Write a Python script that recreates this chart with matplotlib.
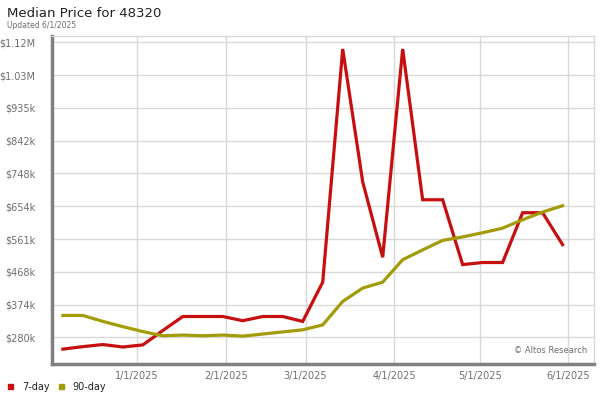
import numpy as np
import pandas as pd
import matplotlib
matplotlib.use('Agg')
import matplotlib.pyplot as plt
import matplotlib.dates as mdates

# Weekly data points (values in $k)
dates = pd.date_range('2024-12-06', periods=26, freq='7D')
day7 = [247, 254, 260, 253, 259, 300, 340, 340, 340, 328, 340, 340, 326,
        438, 1103, 724, 509, 1103, 673, 673, 488, 494, 494, 636, 636, 545]
day90 = [343, 343, 326, 311, 297, 285, 287, 285, 287, 284, 290, 296, 302,
         316, 383, 421, 438, 502, 530, 557, 567, 579, 592, 616, 638, 656]

ytick_vals = [280.5, 374, 467.5, 561, 654.5, 748, 841.5, 935, 1028.5, 1122]
ytick_labels = ['$280k', '$374k', '$468k', '$561k', '$654k', '$748k',
                '$842k', '$935k', '$1.03M', '$1.12M']
xtick_dates = pd.to_datetime(['2025-01-01', '2025-02-01', '2025-03-01',
                              '2025-04-01', '2025-05-01', '2025-06-01'])
xtick_labels = ['1/1/2025', '2/1/2025', '3/1/2025', '4/1/2025', '5/1/2025', '6/1/2025']

red = '#c80f0f'
olive = '#a39c08'
grey_txt = '#6e6e6e'

fig = plt.figure(figsize=(6, 4), dpi=100)
ax = fig.add_axes([52.3 / 600, 36.0 / 400, 541.7 / 600, 328.3 / 400])

ax.plot(dates, day7, color=red, linewidth=2.3, solid_joinstyle='miter', zorder=3)
ax.plot(dates, day90, color=olive, linewidth=2.3, solid_joinstyle='miter', zorder=3)

jan1 = mdates.date2num(pd.Timestamp('2025-01-01'))
ax.set_xlim(jan1 - 29.7, jan1 + 160)
ax.set_ylim(204.5, 1141)

ax.set_yticks(ytick_vals)
ax.set_yticklabels(ytick_labels)
ax.set_xticks(mdates.date2num(xtick_dates))
ax.set_xticklabels(xtick_labels)

ax.grid(True, color='#d9d9d9', linewidth=1)
ax.set_axisbelow(True)
ax.tick_params(axis='both', length=0, labelsize=7, labelcolor=grey_txt)
ax.tick_params(axis='y', pad=12)
ax.tick_params(axis='x', pad=5)

for s in ['top', 'right']:
    ax.spines[s].set_color('#d9d9d9')
    ax.spines[s].set_linewidth(1)
for s in ['left', 'bottom']:
    ax.spines[s].set_color('#808080')
    ax.spines[s].set_linewidth(2.5)

ax.text(0.988, 0.028, '\u00a9 Altos Research', transform=ax.transAxes,
        ha='right', va='bottom', fontsize=6, color=grey_txt)

fig.text(7 / 600, 1 - 13.5 / 400, 'Median Price for 48320', fontsize=9.5,
         color='#222222', va='center', ha='left')
fig.text(7 / 600, 1 - 25 / 400, 'Updated 6/1/2025', fontsize=5.5,
         color=grey_txt, va='center', ha='left')

# legend
fig.patches.append(plt.Rectangle((8.3 / 600, 1 - 389 / 400), 5 / 600, 5 / 400,
                                 transform=fig.transFigure, color=red))
fig.text(21.7 / 600, 1 - 387 / 400, '7-day', fontsize=7, va='center', color='#222222')
fig.patches.append(plt.Rectangle((59.3 / 600, 1 - 389 / 400), 5 / 600, 5 / 400,
                                 transform=fig.transFigure, color=olive))
fig.text(72.7 / 600, 1 - 387 / 400, '90-day', fontsize=7, va='center', color='#222222')

fig.savefig('out.png', dpi=100)
